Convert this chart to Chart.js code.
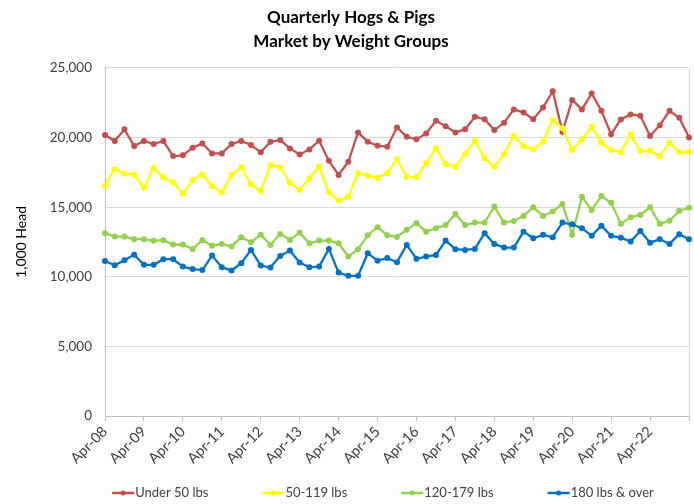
<!DOCTYPE html>
<html>
<head>
<meta charset="utf-8">
<script src="https://cdn.jsdelivr.net/npm/chart.js@4.4.1/dist/chart.umd.min.js"></script>
<style>
  html, body { margin: 0; padding: 0; background: #fff; }
  #wrap { width: 694px; height: 504px; }
</style>
</head>
<body>
<div id="wrap"><canvas id="hogCanvas"></canvas></div>
<script>
// quarterly points, Apr-08 .. Apr-23
const quarterMonths = ["Apr", "Jul", "Oct", "Jan"];
const categories = [];
for (let i = 0; i < 61; i++) {
    const yr = 8 + Math.floor((i + 1) / 4);
    categories.push(quarterMonths[i % 4] + "-" + String(yr).padStart(2, "0"));
}

const tickLabels = ["Apr-08", "Apr-09", "Apr-10", "Apr-11", "Apr-12", "Apr-13", "Apr-14", "Apr-15",
    "Apr-16", "Apr-17", "Apr-18", "Apr-19", "Apr-20", "Apr-21", "Apr-22"];

const under50 = [20180, 19750, 20590, 19390, 19750, 19530, 19750, 18670, 18720, 19270, 19580, 18860,
    18860, 19530, 19750, 19460, 18940, 19700, 19820, 19220, 18790, 19150, 19770, 18330,
    17310, 18260, 20370, 19700, 19410, 19340, 20730, 20050, 19870, 20300, 21200, 20820,
    20370, 20590, 21490, 21320, 20540, 21060, 22020, 21800, 21320, 22160, 23330, 20410,
    22700, 22020, 23170, 21920, 20230, 21300, 21660, 21560, 20110, 20890, 21920, 21420, 20010];

const w50to119 = [16520, 17720, 17400, 17330, 16400, 17810, 17140, 16790, 15970, 16950, 17360, 16520,
    16050, 17310, 17860, 16640, 16160, 18030, 17860, 16760, 16230, 17070, 17900, 16070,
    15470, 15750, 17430, 17260, 17120, 17430, 18460, 17190, 17140, 18150, 19220, 18100,
    17900, 18810, 19770, 18510, 17900, 18810, 20130, 19390, 19150, 19700, 21250, 20660,
    19100, 19870, 20770, 19650, 19100, 18940, 20230, 19030, 19050, 18670, 19650, 18940, 18980];

const w120to179 = [13130, 12890, 12890, 12700, 12700, 12580, 12630, 12310, 12310, 12000, 12630, 12220,
    12360, 12170, 12840, 12480, 13010, 12290, 13080, 12650, 13170, 12410, 12600, 12600,
    12410, 11450, 11980, 12990, 13560, 12990, 12860, 13370, 13850, 13240, 13490, 13720,
    14510, 13720, 13890, 13890, 15040, 13890, 14010, 14370, 14990, 14370, 14680, 15230,
    13010, 15750, 14800, 15800, 15320, 13800, 14280, 14440, 14990, 13800, 14030, 14750, 14960];

const w180plus = [11140, 10830, 11190, 11590, 10860, 10860, 11260, 11260, 10730, 10550, 10480, 11520,
    10690, 10450, 10980, 11930, 10810, 10660, 11500, 11880, 11020, 10690, 10730, 12000,
    10300, 10070, 10070, 11690, 11160, 11340, 11050, 12290, 11290, 11450, 11570, 12600,
    11980, 11930, 12000, 13130, 12360, 12100, 12100, 13240, 12770, 13010, 12840, 13890,
    13770, 13490, 12940, 13670, 12940, 12810, 12530, 13290, 12450, 12700, 12360, 13060, 12700];

const FONT = "Lato";

function series(label, data, color, order) {
    return {
        label: label,
        data: data,
        borderColor: color,
        backgroundColor: color,
        borderWidth: 2.25,
        pointRadius: 3,
        pointBorderWidth: 0,
        pointHoverRadius: 3,
        tension: 0,
        order: order
    };
}

// light frame on the right of the plot area
const plotFrame = {
    id: "plotFrame",
    beforeDatasetsDraw(chart) {
        const {ctx, chartArea: a} = chart;
        ctx.save();
        ctx.strokeStyle = "#D9D9D9";
        ctx.lineWidth = 1;
        ctx.beginPath();
        ctx.moveTo(Math.round(a.right) + 0.5, a.top);
        ctx.lineTo(Math.round(a.right) + 0.5, a.bottom);
        ctx.stroke();
        ctx.restore();
    }
};

// excel style legend: line with a dot, wide gaps
const bottomLegend = {
    id: "bottomLegend",
    afterDraw(chart) {
        const {ctx, chartArea: a} = chart;
        ctx.save();
        ctx.font = "13px " + FONT;
        const items = chart.data.datasets.map(ds => ({
            label: ds.label,
            color: ds.borderColor,
            w: 23 + ctx.measureText(ds.label).width
        }));
        const gap = 54;
        const total = items.reduce((s, it) => s + it.w, 0) + gap * (items.length - 1);
        let x = (a.left + a.right) / 2 - total / 2 - 14;
        const y = 493;
        items.forEach(it => {
            ctx.strokeStyle = it.color;
            ctx.lineWidth = 2.5;
            ctx.beginPath();
            ctx.moveTo(x, y);
            ctx.lineTo(x + 22, y);
            ctx.stroke();
            ctx.fillStyle = it.color;
            ctx.beginPath();
            ctx.arc(x + 11, y, 2.5, 0, Math.PI * 2);
            ctx.fill();
            ctx.fillStyle = "#404040";
            ctx.textBaseline = "middle";
            ctx.textAlign = "left";
            ctx.fillText(it.label, x + 23, y);
            x += it.w + gap;
        });
        ctx.restore();
    }
};

const hogChart = new Chart(document.getElementById("hogCanvas"), {
    type: "line",
    data: {
        labels: categories,
        datasets: [
            series("Under 50 lbs", under50, "#C0504D", 3),
            series("50-119 lbs", w50to119, "#FFFF00", 2),
            series("120-179 lbs", w120to179, "#92D050", 1),
            series("180 lbs & over", w180plus, "#0070C0", 0)
        ]
    },
    options: {
        responsive: true,
        maintainAspectRatio: false,
        animation: false,
        layout: {
            padding: {left: 13, right: 5, top: 0, bottom: 0}
        },
        plugins: {
            legend: {display: false},
            tooltip: {enabled: false},
            title: {
                display: true,
                text: ["Quarterly Hogs & Pigs", "Market by Weight Groups"],
                color: "#000",
                font: {family: FONT, size: 17, weight: "bold", lineHeight: 1.41},
                padding: {top: 6, bottom: 14}
            }
        },
        scales: {
            x: {
                type: "category",
                offset: false,
                afterFit: s => {
                    s.height = 88;
                    s.paddingLeft = 0;
                    s.paddingRight = 0;
                },
                border: {color: "#BFBFBF"},
                grid: {
                    drawOnChartArea: false,
                    tickLength: 5,
                    tickColor: c => (c.index % 4 === 0 ? "#BFBFBF" : "rgba(0,0,0,0)")
                },
                ticks: {
                    autoSkip: false,
                    maxRotation: 45,
                    minRotation: 45,
                    padding: 2,
                    color: "#404040",
                    font: {family: FONT, size: 14.5},
                    callback: (v, i) => (tickLabels.includes(categories[i]) ? categories[i] : "")
                }
            },
            y: {
                min: 0,
                max: 25000,
                afterFit: s => { s.width = 92; },
                border: {color: "#BFBFBF"},
                grid: {color: "#D9D9D9", drawTicks: false},
                ticks: {
                    stepSize: 5000,
                    padding: 13,
                    color: "#404040",
                    font: {family: FONT, size: 13.5},
                    callback: v => v.toLocaleString("en-US")
                },
                title: {
                    display: true,
                    text: "1,000 Head",
                    color: "#000",
                    font: {family: FONT, size: 14},
                    padding: {top: 0, bottom: 0}
                }
            }
        }
    },
    plugins: [plotFrame, bottomLegend]
});
</script>
</body>
</html>
